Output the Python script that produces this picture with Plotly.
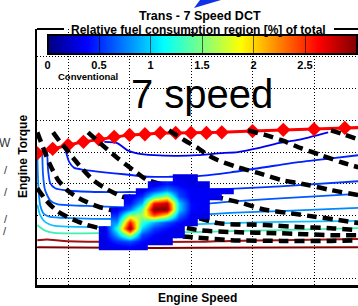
import numpy as np
import plotly.graph_objects as go

W, H = 358, 306
def px(x):
    return x / W
def py(y):
    return 1 - y / H

FONT = "Liberation Sans, Arial, sans-serif"
N = np.nan

# ---------------- data ----------------
# maximum torque curve (red, markers)
speed_max = [500, 750, 1000, 1250, 1500, 1750, 2000, 2250, 2500, 2750, 3000, 3250, 3500, 4000, 4500, 5000, 5500, 6000]
torque_max = [198, 205, 211, 216, 220, 224, 227, 228, 230, 230, 230, 230, 231, 233, 235, 236, 238, 239]

# solid contour lines (engine map)
b1_speed = [1590, 1800, 1960, 2120, 2400, 2770, 3110, 3440, 3760, 4090, 4420, 4740, 5230]
b1_torque = [216, 214, 203, 198, 195, 194, 195, 198, 200, 206, 214, 219, 231]
b2_speed = [950, 1020, 1100, 1260, 1590, 1910, 2290, 2660, 3110, 3650, 4200, 4740, 5280, 5720]
b2_torque = [206, 184, 175, 172, 168, 165, 161, 161, 162, 168, 176, 184, 190, 195]
b3_speed = [660, 675, 710, 790, 1030, 1520, 2010, 2660, 3110, 3630, 4450, 5720]
b3_torque = [202, 172, 151, 143, 139, 137, 137, 137, 140, 142, 146, 154]
b4_speed = [580, 593, 626, 707, 821, 1309, 1846, 2496, 3114, 3634, 4447, 5720]
b4_torque = [200, 164, 140, 124, 118, 115, 113, 113, 117, 122, 127, 134]
b5_speed = [500, 515, 545, 610, 707, 1033, 1846, 2496, 3114, 3634, 4447, 5720]
b5_torque = [198, 150, 117, 102, 98, 96, 94.5, 96, 101, 104, 107, 112]
c1_speed = [500, 545, 626, 789, 1195, 1797, 3114, 3634, 4447, 5720]
c1_torque = [117, 101, 90, 83.5, 82, 82, 86.5, 88, 90, 91.5]
t1_speed = [500, 610, 772, 1748, 3114, 3634, 4447, 5720]
t1_torque = [85, 77, 72.5, 72.5, 74, 75.5, 77, 80]
r1_speed = [500, 659, 935, 1683, 3114, 3634, 4447, 5720]
r1_torque = [61, 62, 60, 58.5, 58.5, 60, 61, 63]
r2_speed = [500, 1748, 3114, 5720]
r2_torque = [50, 49, 49, 50]

solid_lines = [
    (b1_speed, b1_torque, "#0000f0", 1.8),
    (b2_speed, b2_torque, "#0020ff", 1.8),
    (b3_speed, b3_torque, "#0038ff", 1.8),
    (b4_speed, b4_torque, "#0058ff", 1.8),
    (b5_speed, b5_torque, "#0088ff", 1.8),
    (c1_speed, c1_torque, "#10c0ff", 1.8),
    (t1_speed, t1_torque, "#40f0b0", 1.8),
    (r1_speed, r1_torque, "#a01010", 2.0),
    (r2_speed, r2_torque, "#800000", 2.0),
]

# dashed gear lines (7 gears)
g1_speed = [500, 610, 707, 837, 984, 1146, 1309, 1520, 1797, 3114, 3650, 4463, 5276, 5720]
g1_torque = [143, 128, 117, 106, 98, 91, 85, 80, 76, 65, 61, 60, 60, 61]
g2_speed = [500, 610, 707, 837, 984, 1146, 1309, 1520, 1683, 1846, 3114, 3650, 4463, 5276, 5720]
g2_torque = [231, 203, 180, 156, 140, 129, 121, 113, 109, 104, 77, 74, 72, 69, 69]
g3_speed = [756, 870, 984, 1114, 1244, 1407, 1569, 1846, 2089, 2285, 3439, 4203, 4740, 5276, 5720]
g3_torque = [231, 216, 203, 187, 172, 156, 145, 131, 124, 120, 88, 85, 82, 80, 77]
g4_speed = [1325, 1520, 1797, 2122, 2285, 3813, 4203, 4577, 5016, 5390, 5720]
g4_torque = [231, 214, 191, 167, 156, 120, 109, 104, 98, 93, 88]
g5_speed = [2642, 2886, 3114, 3276, 3439, 3764, 4089, 4463, 4902, 5276, 5720]
g5_torque = [234, 219, 206, 195, 187, 176, 167, 156, 148, 140, 132]
g6_speed = [3927, 4203, 4463, 4789, 5114, 5439, 5720]
g6_torque = [234, 227, 219, 206, 195, 184, 176]
g7_speed = [5276, 5504, 5720]
g7_torque = [234, 227, 220]
gear_lines = [(g1_speed, g1_torque), (g2_speed, g2_torque), (g3_speed, g3_torque),
              (g4_speed, g4_torque), (g5_speed, g5_torque), (g6_speed, g6_torque),
              (g7_speed, g7_torque)]

# relative fuel consumption region [%] (operating point density)
region_speed = [1600, 1800, 2000, 2200, 2400, 2600, 2800, 3000, 3200, 3400, 3600]
region_torque = [50, 60, 70, 80, 90, 100, 110, 120, 130, 140, 150, 160]
region_pct = [
    [0.30, 0.30, 0.35, 0.30, N,    N,    N,    N,    N,    N,    N],
    [0.30, 0.50, 0.60, 0.40, 0.30, 0.30, N,    N,    N,    N,    N],
    [0.30, 0.90, 1.80, 0.60, 0.40, 0.30, 0.30, N,    N,    N,    N],
    [0.30, 1.20, 3.00, 1.00, 0.55, 0.40, 0.30, N,    N,    N,    N],
    [N,    0.80, 2.60, 1.30, 0.90, 0.60, 0.40, 0.30, N,    N,    N],
    [N,    0.50, 1.60, 1.60, 2.40, 1.90, 0.70, 0.35, 0.30, N,    N],
    [N,    0.30, 0.70, 1.40, 3.00, 3.00, 1.00, 0.40, 0.35, N,    N],
    [N,    N,    0.40, 0.90, 2.60, 2.80, 1.00, 0.40, 0.35, N,    N],
    [N,    N,    0.30, 0.50, 1.20, 1.60, 0.60, 0.35, 0.35, 0.30, N],
    [N,    N,    N,    0.30, 0.55, 0.80, 0.50, 0.35, 0.35, 0.35, 0.35],
    [N,    N,    N,    N,    0.30, 0.45, 0.35, 0.30, 0.30, N,    N],
    [N,    N,    N,    N,    N,    N,    0.30, 0.30, N,    N,    N],
]

cbar_ticks = [0, 0.5, 1, 1.5, 2, 2.5, 3]
cbar_labels = ["0", "0.5", "1", "1.5", "2", "2.5", "3"]
speed_grid = [1000, 2000, 3000, 4000, 5000]
torque_grid = [0, 50, 100, 150, 200, 250, 300, 350]

jet = [[0, "rgb(0,0,128)"], [0.125, "rgb(0,0,255)"], [0.375, "rgb(0,255,255)"],
       [0.625, "rgb(255,255,0)"], [0.875, "rgb(255,0,0)"], [1, "rgb(128,0,0)"]]

XR = [495, 5715]
YR = [-9.5, 393.8]

fig = go.Figure()

for xs, ys, col, w in solid_lines:
    fig.add_trace(go.Scatter(x=xs, y=ys, mode="lines", line=dict(color=col, width=w, shape="spline", smoothing=0.6),
                             hoverinfo="skip"))

fig.add_trace(go.Scatter(x=speed_max, y=torque_max, mode="lines+markers",
                         line=dict(color="#ff0000", width=3),
                         marker=dict(symbol="diamond", size=11, color="#ff0000"),
                         hoverinfo="skip"))

for xs, ys in gear_lines:
    fig.add_trace(go.Scatter(x=xs, y=ys, mode="lines",
                             line=dict(color="black", width=4.5, dash="10px,6px", shape="spline", smoothing=0.6),
                             hoverinfo="skip"))

fig.add_trace(go.Heatmap(
    x=region_speed, y=region_torque, z=region_pct, xaxis="x3", yaxis="y3",
    colorscale=jet, zmin=0, zmax=3, zsmooth="best", hoverinfo="skip",
    colorbar=dict(orientation="h", xref="paper", yref="paper",
                  x=px(202), xanchor="center", y=py(35), yanchor="top",
                  len=309, lenmode="pixels", thickness=19, thicknessmode="pixels",
                  xpad=0, ypad=0, outlinewidth=2, outlinecolor="black",
                  tickvals=cbar_ticks, ticktext=cbar_labels, ticks="inside", ticklen=19,
                  tickwidth=1, tickcolor="rgba(0,0,0,0.6)",
                  tickfont=dict(family=FONT, size=11, color="black", weight="bold")),
))

axis_common = dict(showgrid=True, gridcolor="black", gridwidth=1, griddash="1px,2px",
                   showticklabels=False, ticks="", zeroline=False,
                   showline=True, linecolor="black", linewidth=2.5)

fig.update_layout(
    width=W, height=H, margin=dict(l=0, r=0, t=0, b=0, autoexpand=False),
    paper_bgcolor="white", plot_bgcolor="white", showlegend=False,
    font=dict(family=FONT, color="black"),
    xaxis=dict(domain=[px(37), 1], range=XR, tickvals=speed_grid, **axis_common),
    yaxis=dict(domain=[py(285), py(29)], range=YR, tickvals=torque_grid, **axis_common),
    xaxis3=dict(overlaying="x", range=XR, visible=False, anchor="y3"),
    yaxis3=dict(overlaying="y", range=YR, visible=False, anchor="x3"),
)

shapes = [
    dict(type="line", xref="paper", yref="paper", x0=px(37), x1=px(64), y0=py(29), y1=py(29),
         line=dict(color="black", width=2)),
    dict(type="line", xref="paper", yref="paper", x0=px(334), x1=1, y0=py(29), y1=py(29),
         line=dict(color="black", width=2)),
    dict(type="path", xref="paper", yref="paper",
         path=f"M {px(194)},{py(8)} L {px(200)},{py(0)} L {px(221)},{py(0)} Z",
         fillcolor="#1030e8", line=dict(width=0)),
]
fig.update_layout(shapes=shapes)

def ann(text, x, y, size, bold=False, **kw):
    d = dict(text=f"<b>{text}</b>" if bold else text, x=px(x), y=py(y), xref="paper", yref="paper",
             xanchor="center", yanchor="middle", borderpad=0,
             showarrow=False, font=dict(family=FONT, size=size, color=kw.pop("color", "black")))
    d.update(kw)
    return d

annotations = [
    ann("Trans - 7 Speed DCT", 200, 16, 12.5, bold=True),
    ann("Relative fuel consumption region [%] of total", 198, 30, 12, bold=True),
    ann("Conventional", 88, 76, 9.5, bold=True),
    ann("7 speed", 202, 94, 40),
    ann("Engine Speed", 197, 298, 12, bold=True),
    ann("Engine Torque", 23, 157, 12, bold=True, textangle=-90),
    ann("W", 5, 143, 12, color="#333"),
    ann("/", 6, 170, 11, color="#333"),
    ann("/", 6, 192, 11, color="#333"),
    ann("/", 6, 219, 11, color="#333"),
    ann("/", 5, 231, 11, color="#333"),
]
fig.update_layout(annotations=annotations)

fig.write_html("out.html", config={"displayModeBar": False, "staticPlot": True},
               post_script="document.body.style.margin='0';document.body.style.overflow='hidden';")
